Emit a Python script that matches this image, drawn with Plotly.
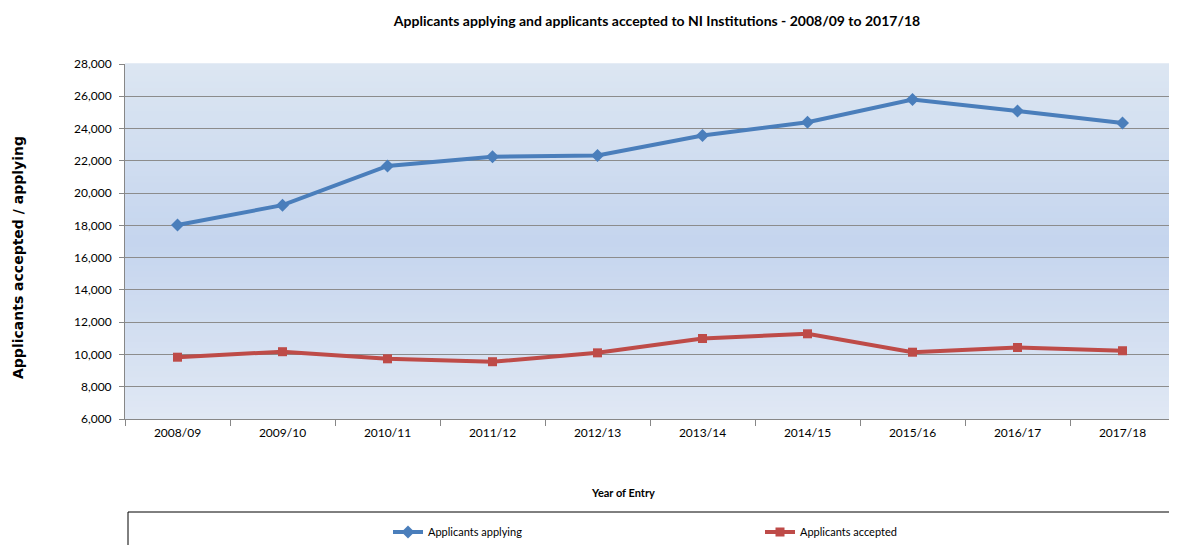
import plotly.graph_objects as go

years = ["2008/09", "2009/10", "2010/11", "2011/12", "2012/13",
         "2013/14", "2014/15", "2015/16", "2016/17", "2017/18"]
applying = [18020, 19250, 21680, 22250, 22330, 23570, 24390, 25800, 25090, 24350]
accepted = [9830, 10170, 9730, 9550, 10100, 10990, 11280, 10140, 10430, 10230]

y_ticks = list(range(6000, 28001, 2000))

TXT = "Lato, Liberation Sans, sans-serif"

# page body has an 8px margin: plot area placed at x 117..1167, y 56..411 inside the figure
L, R, T, B = 117, 10, 56, 134
W, H = 1177, 545
PW = W - L - R
PH = H - T - B

fig = go.Figure()
fig.add_trace(go.Scatter(
    x=years, y=applying, name="Applicants applying", mode="lines+markers",
    line=dict(color="#4a7ebb", width=4),
    marker=dict(symbol="diamond", size=10, color="#4a7ebb"),
))
fig.add_trace(go.Scatter(
    x=years, y=accepted, name="Applicants accepted", mode="lines+markers",
    line=dict(color="#be4b48", width=4),
    marker=dict(symbol="square", size=9, color="#be4b48"),
))

def lerp(c1, c2, t):
    return tuple(round(a + (b - a) * t) for a, b in zip(c1, c2))

top = (220, 230, 242)
mid = (197, 213, 238)
bot = (224, 232, 244)
n = 60
shapes = []
for i in range(n):
    y0 = i / n
    y1 = (i + 1) / n
    yc = (y0 + y1) / 2
    if yc < 0.5:
        c = lerp(bot, mid, yc / 0.5)
    else:
        c = lerp(mid, top, (yc - 0.5) / 0.5)
    shapes.append(dict(type="rect", xref="x domain", yref="y domain",
                       x0=0, x1=1, y0=y0, y1=y1 + 0.002, layer="below",
                       line=dict(width=0), fillcolor="rgb(%d,%d,%d)" % c))
# legend box
shapes.append(dict(type="rect", xref="paper", yref="paper",
                   x0=(120 - L) / PW, x1=(1167 - L) / PW,
                   y0=(H - B - 504) / PH, y1=-0.6,
                   line=dict(color="black", width=1), fillcolor="rgba(0,0,0,0)",
                   layer="above"))

fig.update_layout(
    width=W, height=H,
    margin=dict(l=L, r=R, t=T, b=B, autoexpand=False),
    paper_bgcolor="white",
    plot_bgcolor="rgba(0,0,0,0)",
    shapes=shapes,
    title=dict(text="<b>Applicants applying and applicants accepted to NI Institutions - 2008/09 to 2017/18</b>",
               x=649 / W, xanchor="center", y=1 - 13 / H, yanchor="middle",
               font=dict(family=TXT, size=14, color="black")),
    font=dict(family=TXT, size=12, color="black"),
    showlegend=True,
    legend=dict(orientation="h", x=(380 - L) / PW, xanchor="left",
                y=(H - B - 524) / PH, yanchor="middle",
                entrywidth=327, entrywidthmode="pixels",
                font=dict(family=TXT, size=11, color="black"),
                bgcolor="rgba(0,0,0,0)"),
    xaxis=dict(type="category", range=[-0.5, len(years) - 0.5],
               tickson="boundaries", ticks="outside", ticklen=6,
               tickcolor="#878787", showline=True, linecolor="#878787", linewidth=1,
               showgrid=False, tickfont=dict(family=TXT, size=12),
               ticklabelstandoff=3),
    yaxis=dict(range=[6000, 28000], tickvals=y_ticks, tickformat=",",
               ticks="outside", ticklen=5, tickcolor="#878787",
               showline=True, linecolor="#878787", linewidth=1,
               showgrid=True, gridcolor="#8c8c8c", gridwidth=1,
               tickfont=dict(family=TXT, size=12), zeroline=False,
               ticklabelstandoff=5),
    annotations=[
        dict(text="<b>Applicants accepted / applying</b>", textangle=-90,
             xref="paper", yref="paper", x=(10 - L) / PW, y=(H - B - 250) / PH,
             xanchor="center", yanchor="middle", showarrow=False,
             font=dict(family="DejaVu Sans", size=14, color="black")),
        dict(text="<b>Year of Entry</b>",
             xref="paper", yref="paper", x=(615 - L) / PW, y=(H - B - 484) / PH,
             xanchor="center", yanchor="middle", showarrow=False,
             font=dict(family=TXT, size=11, color="black")),
    ],
)

fig.write_html("out.html")
